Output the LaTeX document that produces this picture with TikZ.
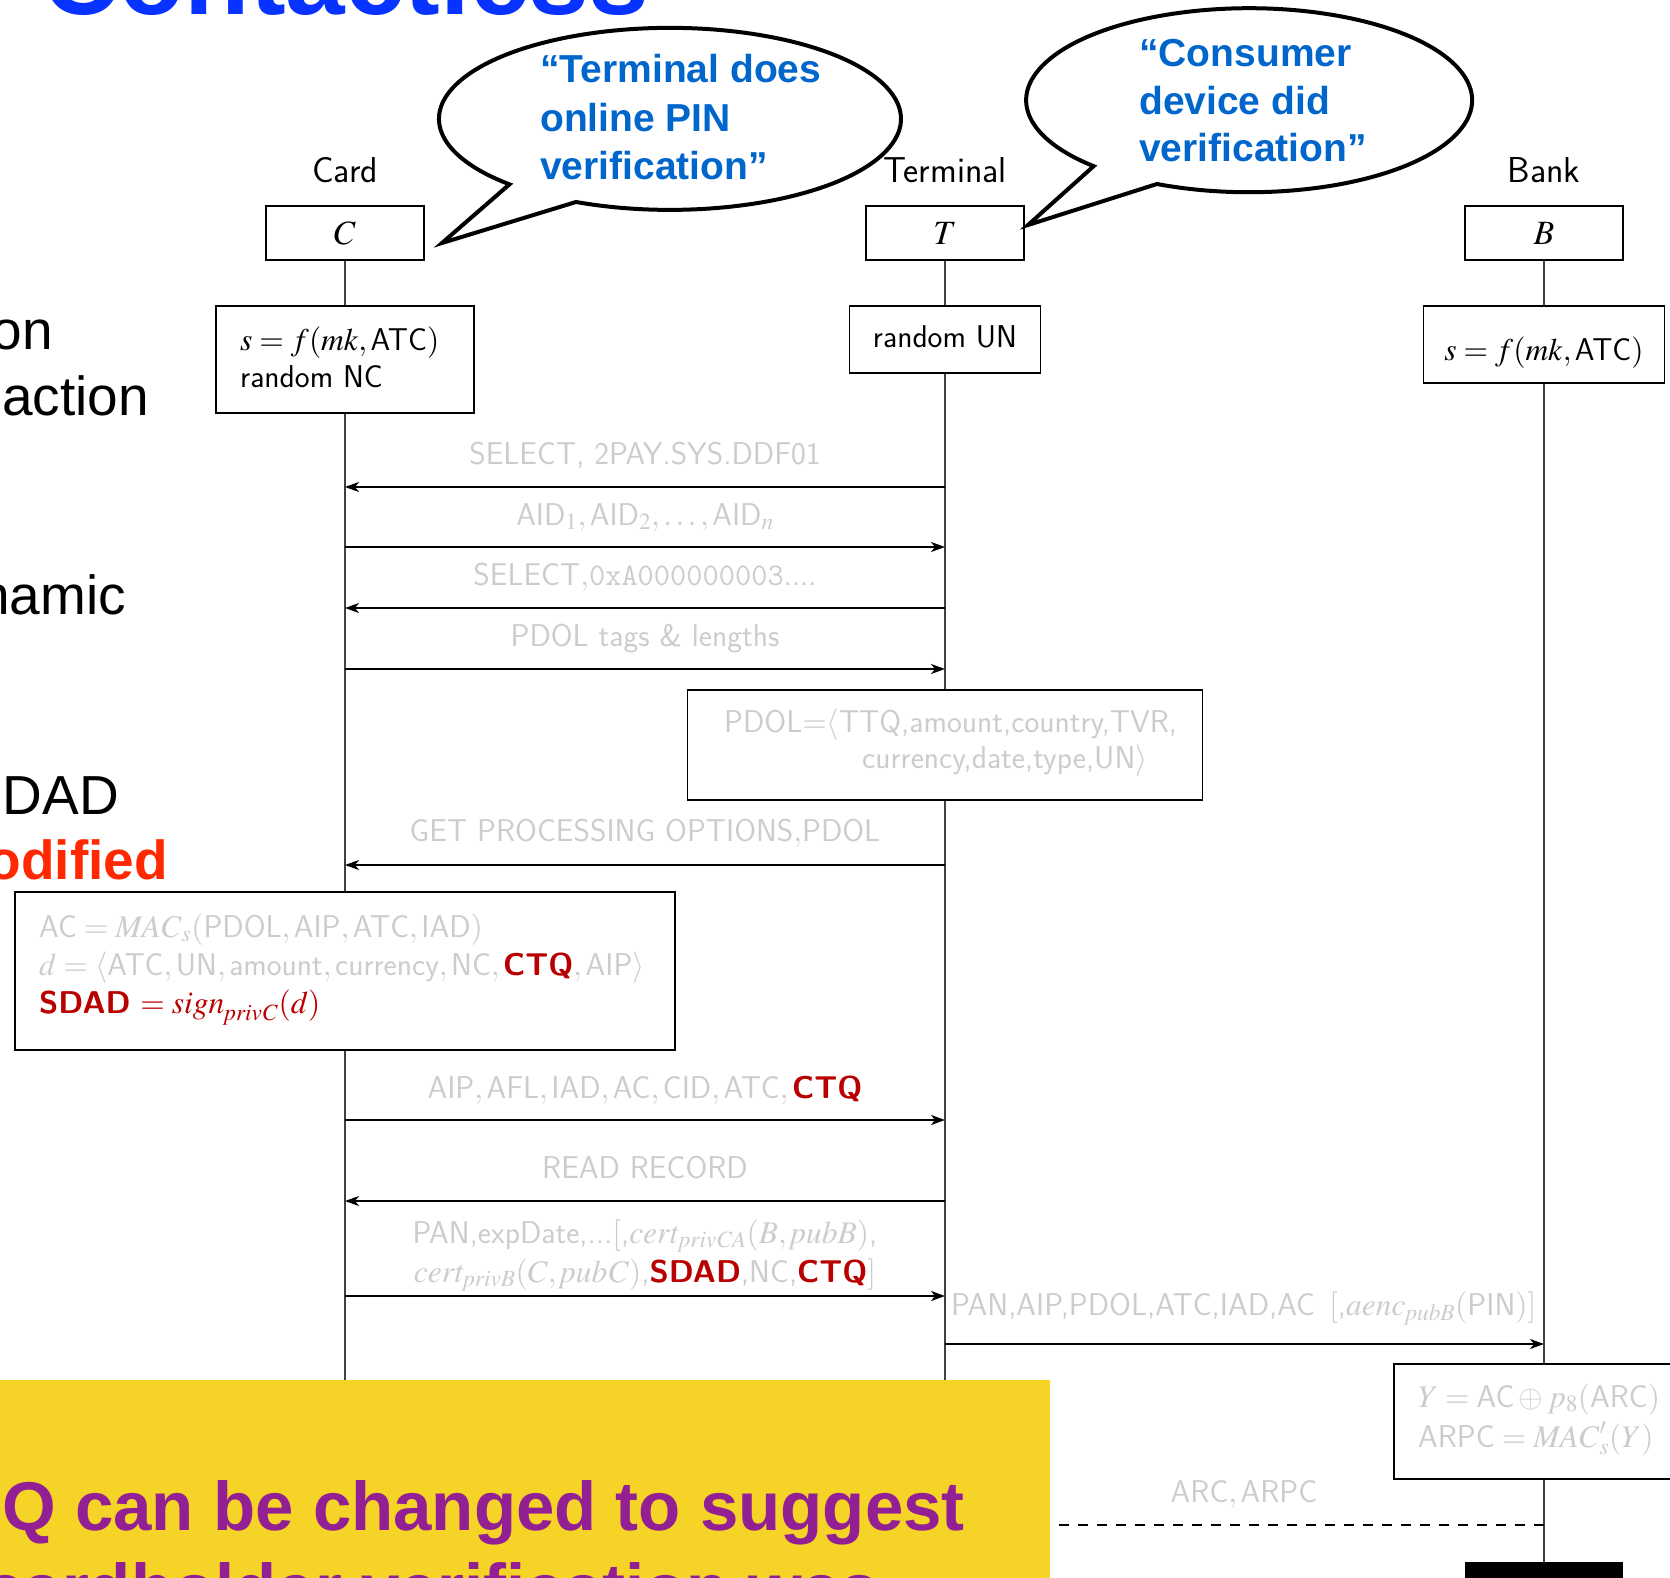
\documentclass[tikz,border=0pt]{standalone}
\usepackage{amsmath}
\usepackage{mathptmx}
\usepackage[no-math]{fontspec}
\usetikzlibrary{arrows.meta}
\newfontfamily\helv{Liberation Sans}
\definecolor{msggray}{RGB}{204,204,204}
\definecolor{hlred}{RGB}{185,0,0}
\definecolor{bubbleblue}{RGB}{0,102,204}
\definecolor{titleblue}{RGB}{8,50,255}
\definecolor{alertred}{RGB}{255,40,0}
\definecolor{noteyellow}{RGB}{245,211,39}
\definecolor{notepurple}{RGB}{146,32,148}
\newcommand\hl[1]{\textcolor{hlred}{\textbf{#1}}}

\tikzset{
  lbl/.style={font=\fontsize{36}{43}\selectfont\sffamily, inner sep=0pt, anchor=base},
  hdr/.style={draw, line width=1.8pt, fill=white, minimum width=158pt, minimum height=54pt,
              inner sep=0pt, font=\fontsize{34}{41}\selectfont},
  actbox/.style={draw, line width=1.8pt, fill=white, inner sep=0pt},
  txt/.style={font=\fontsize{31.5}{38}\selectfont\sffamily, inner sep=0pt},
  msgtxt/.style={txt, text=msggray},
  msg/.style={line width=1.8pt, -{Stealth[length=14pt,width=10pt,inset=4pt]}},
  reply/.style={msg, dash pattern=on 10pt off 9pt},
  life/.style={line width=1.5pt, draw=black!75},
  bubble/.style={line width=4pt, fill=white, line join=miter},
  bubtxt/.style={font=\helv\bfseries\fontsize{39}{47}\selectfont, text=bubbleblue,
                 inner sep=0pt, anchor=base west},
  side/.style={font=\helv\fontsize{55}{66}\selectfont, inner sep=0pt, anchor=base east},
  notetxt/.style={font=\helv\bfseries\fontsize{69}{80}\selectfont, text=notepurple,
                  inner sep=0pt, anchor=base east}
}

\begin{document}
\begin{tikzpicture}[x=1pt, y=-1pt]
\useasboundingbox (0,0) rectangle (1670,1578);
\clip (0,0) rectangle (1670,1578);

% instance heads
\node[lbl] (cardlbl) at (345,183) {Card};
\node[lbl] (termlbl) at (945,183) {Terminal};
\node[lbl] (banklbl) at (1544,183) {Bank};
\node[hdr] (C) at (345,233) {$C$};
\node[hdr] (T) at (945,233) {$T$};
\node[hdr] (B) at (1544,233) {$B$};

% local actions (boxes)
\node[actbox, minimum width=258pt, minimum height=107pt] (cinit) at (345,359.5) {};
\node[actbox, minimum width=191pt, minimum height=67pt] (tinit) at (945,339.5) {};
\node[actbox, minimum width=241pt, minimum height=77pt] (binit) at (1544,344.5) {};
\node[actbox, minimum width=515pt, minimum height=110pt] (pdolbox) at (945,745) {};
\node[actbox, minimum width=660pt, minimum height=158pt] (acbox) at (345,971) {};
\node[actbox, minimum width=300pt, minimum height=115pt] (bcalc) at (1544,1421.5) {};
\node[fill=black, minimum width=158pt, minimum height=54pt, inner sep=0pt] (bend) at (1544,1589) {};
\coordinate (cend) at (345,1578);
\coordinate (tend) at (945,1578);

% lifelines
\draw[life] (C) -- (cinit);
\draw[life] (cinit) -- (acbox);
\draw[life] (acbox) -- (cend);
\draw[life] (T) -- (tinit);
\draw[life] (tinit) -- (pdolbox);
\draw[life] (pdolbox) -- (tend);
\draw[life] (B) -- (binit);
\draw[life] (binit) -- (bcalc);
\draw[life] (bcalc) -- (bend);

% box contents
\node[txt, anchor=base west] (cinit1) at (240,351) {$s=f(\mathit{mk},\text{ATC})$};
\node[txt, anchor=base west] (cinit2) at (240,388) {random NC};
\node[txt, anchor=base] (tinit1) at (945,348) {random UN};
\node[txt, anchor=base] (binit1) at (1544,360) {$s=f(\mathit{mk},\text{ATC})$};
\node[msgtxt, anchor=base west] (pdol1) at (724,732) {PDOL${=}{\langle}$TTQ,amount,country,TVR,};
\node[msgtxt, anchor=base west] (pdol2) at (862,768) {currency,date,type,UN$\rangle$};
\node[msgtxt, anchor=base west] (ac1) at (39,937)
  {$\text{AC}=\mathit{MAC}_s(\text{PDOL},\text{AIP},\text{ATC},\text{IAD})$};
\node[msgtxt, anchor=base west] (ac2) at (39,975)
  {$d=\langle\text{ATC},\text{UN},\text{amount},\text{currency},\text{NC},\text{\hl{CTQ}},\text{AIP}\rangle$};
\node[txt, anchor=base west, text=hlred] (ac3) at (39,1013)
  {\textbf{SDAD} $=\mathit{sign}_{\mathit{privC}}(d)$};
\node[msgtxt, anchor=base west] (bcalc1) at (1418,1407) {$Y=\text{AC}\oplus p_8(\text{ARC})$};
\node[msgtxt, anchor=base west] (bcalc2) at (1418,1447) {$\text{ARPC}=\mathit{MAC}'_s(Y)$};

% messages
\draw[msg] (T |- 0,487) -- (C |- 0,487);
\node[msgtxt, anchor=base] (m1) at (645,464) {SELECT, 2PAY.SYS.DDF01};
\draw[msg] (C |- 0,547) -- (T |- 0,547);
\node[msgtxt, anchor=base] (m2) at (645,525) {$\text{AID}_1,\text{AID}_2,\ldots,\text{AID}_n$};
\draw[msg] (T |- 0,608) -- (C |- 0,608);
\node[msgtxt, anchor=base] (m3) at (645,585) {SELECT$,$\texttt{0xA000000003}....};
\draw[msg] (C |- 0,669) -- (T |- 0,669);
\node[msgtxt, anchor=base] (m4) at (645,646) {PDOL tags \& lengths};
\draw[msg] (T |- 0,865) -- (C |- 0,865);
\node[msgtxt, anchor=base] (m5) at (645,841) {GET PROCESSING OPTIONS$,$PDOL};
\draw[msg] (C |- 0,1120) -- (T |- 0,1120);
\node[msgtxt, anchor=base] (m6) at (645,1098)
  {AIP$,\,$AFL$,\,$IAD$,\,$AC$,\,$CID$,\,$ATC$,\,$\hl{CTQ}};
\draw[msg] (T |- 0,1201) -- (C |- 0,1201);
\node[msgtxt, anchor=base] (m7) at (645,1178) {READ RECORD};
\draw[msg] (C |- 0,1296) -- (T |- 0,1296);
\node[msgtxt, anchor=base] (m8a) at (645,1243)
  {PAN,expDate,...$[$,$\mathit{cert}_{\mathit{privCA}}(B,\mathit{pubB})$,};
\node[msgtxt, anchor=base] (m8b) at (645,1282)
  {$\mathit{cert}_{\mathit{privB}}(C,\mathit{pubC})$,\hl{SDAD},NC,\hl{CTQ}$]$};
\draw[msg] (T |- 0,1344) -- (B |- 0,1344);
\node[msgtxt, anchor=base west] (m9) at (951,1315)
  {PAN,AIP,PDOL,ATC,IAD,AC\hspace{14pt}$[$,$\mathit{aenc}_{\mathit{pubB}}(\text{PIN})]$};
\draw[reply] (B |- 0,1525) -- (T |- 0,1525);
\node[msgtxt, anchor=base] (m10) at (1244,1502) {ARC$,\,$ARPC};

% speech bubbles
\draw[bubble] (576,202) arc[start angle=114, end angle=-226, x radius=231, y radius=91]
  -- (442,243) -- cycle;
\node[bubtxt] (b1a) at (540,83) {“Terminal does};
\node[bubtxt] (b1b) at (540,132) {online PIN};
\node[bubtxt] (b1c) at (540,180) {verification”};

\draw[bubble] (1157,184) arc[start angle=114.4, end angle=-225.8, x radius=223, y radius=92]
  -- (1028,225) -- cycle;
\node[bubtxt] (b2a) at (1139,67) {“Consumer};
\node[bubtxt] (b2b) at (1139,115) {device did};
\node[bubtxt] (b2c) at (1139,162) {verification”};

% slide text around the diagram
\node[anchor=base west, font=\helv\bfseries\fontsize{107}{122}\selectfont, text=titleblue,
      inner sep=0pt] (title) at (42,15) {Contactless};
\node[side] (s1) at (53,350) {on};
\node[side] (s2) at (149,415) {action};
\node[side] (s3) at (126,614) {namic};
\node[side] (s4) at (119,814) {SDAD};
\node[side, font=\helv\bfseries\fontsize{55}{66}\selectfont, text=alertred] (s5) at (168,879) {odified};

% highlighted note
\node[fill=noteyellow, anchor=north west, minimum width=1050pt, minimum height=200pt,
      inner sep=0pt] (note) at (0,1380) {};
\node[notetxt] (note1) at (965,1530) {Q can be changed to suggest};
\node[notetxt] (note2) at (879,1612) {cardholder verification was};
\end{tikzpicture}
\end{document}
